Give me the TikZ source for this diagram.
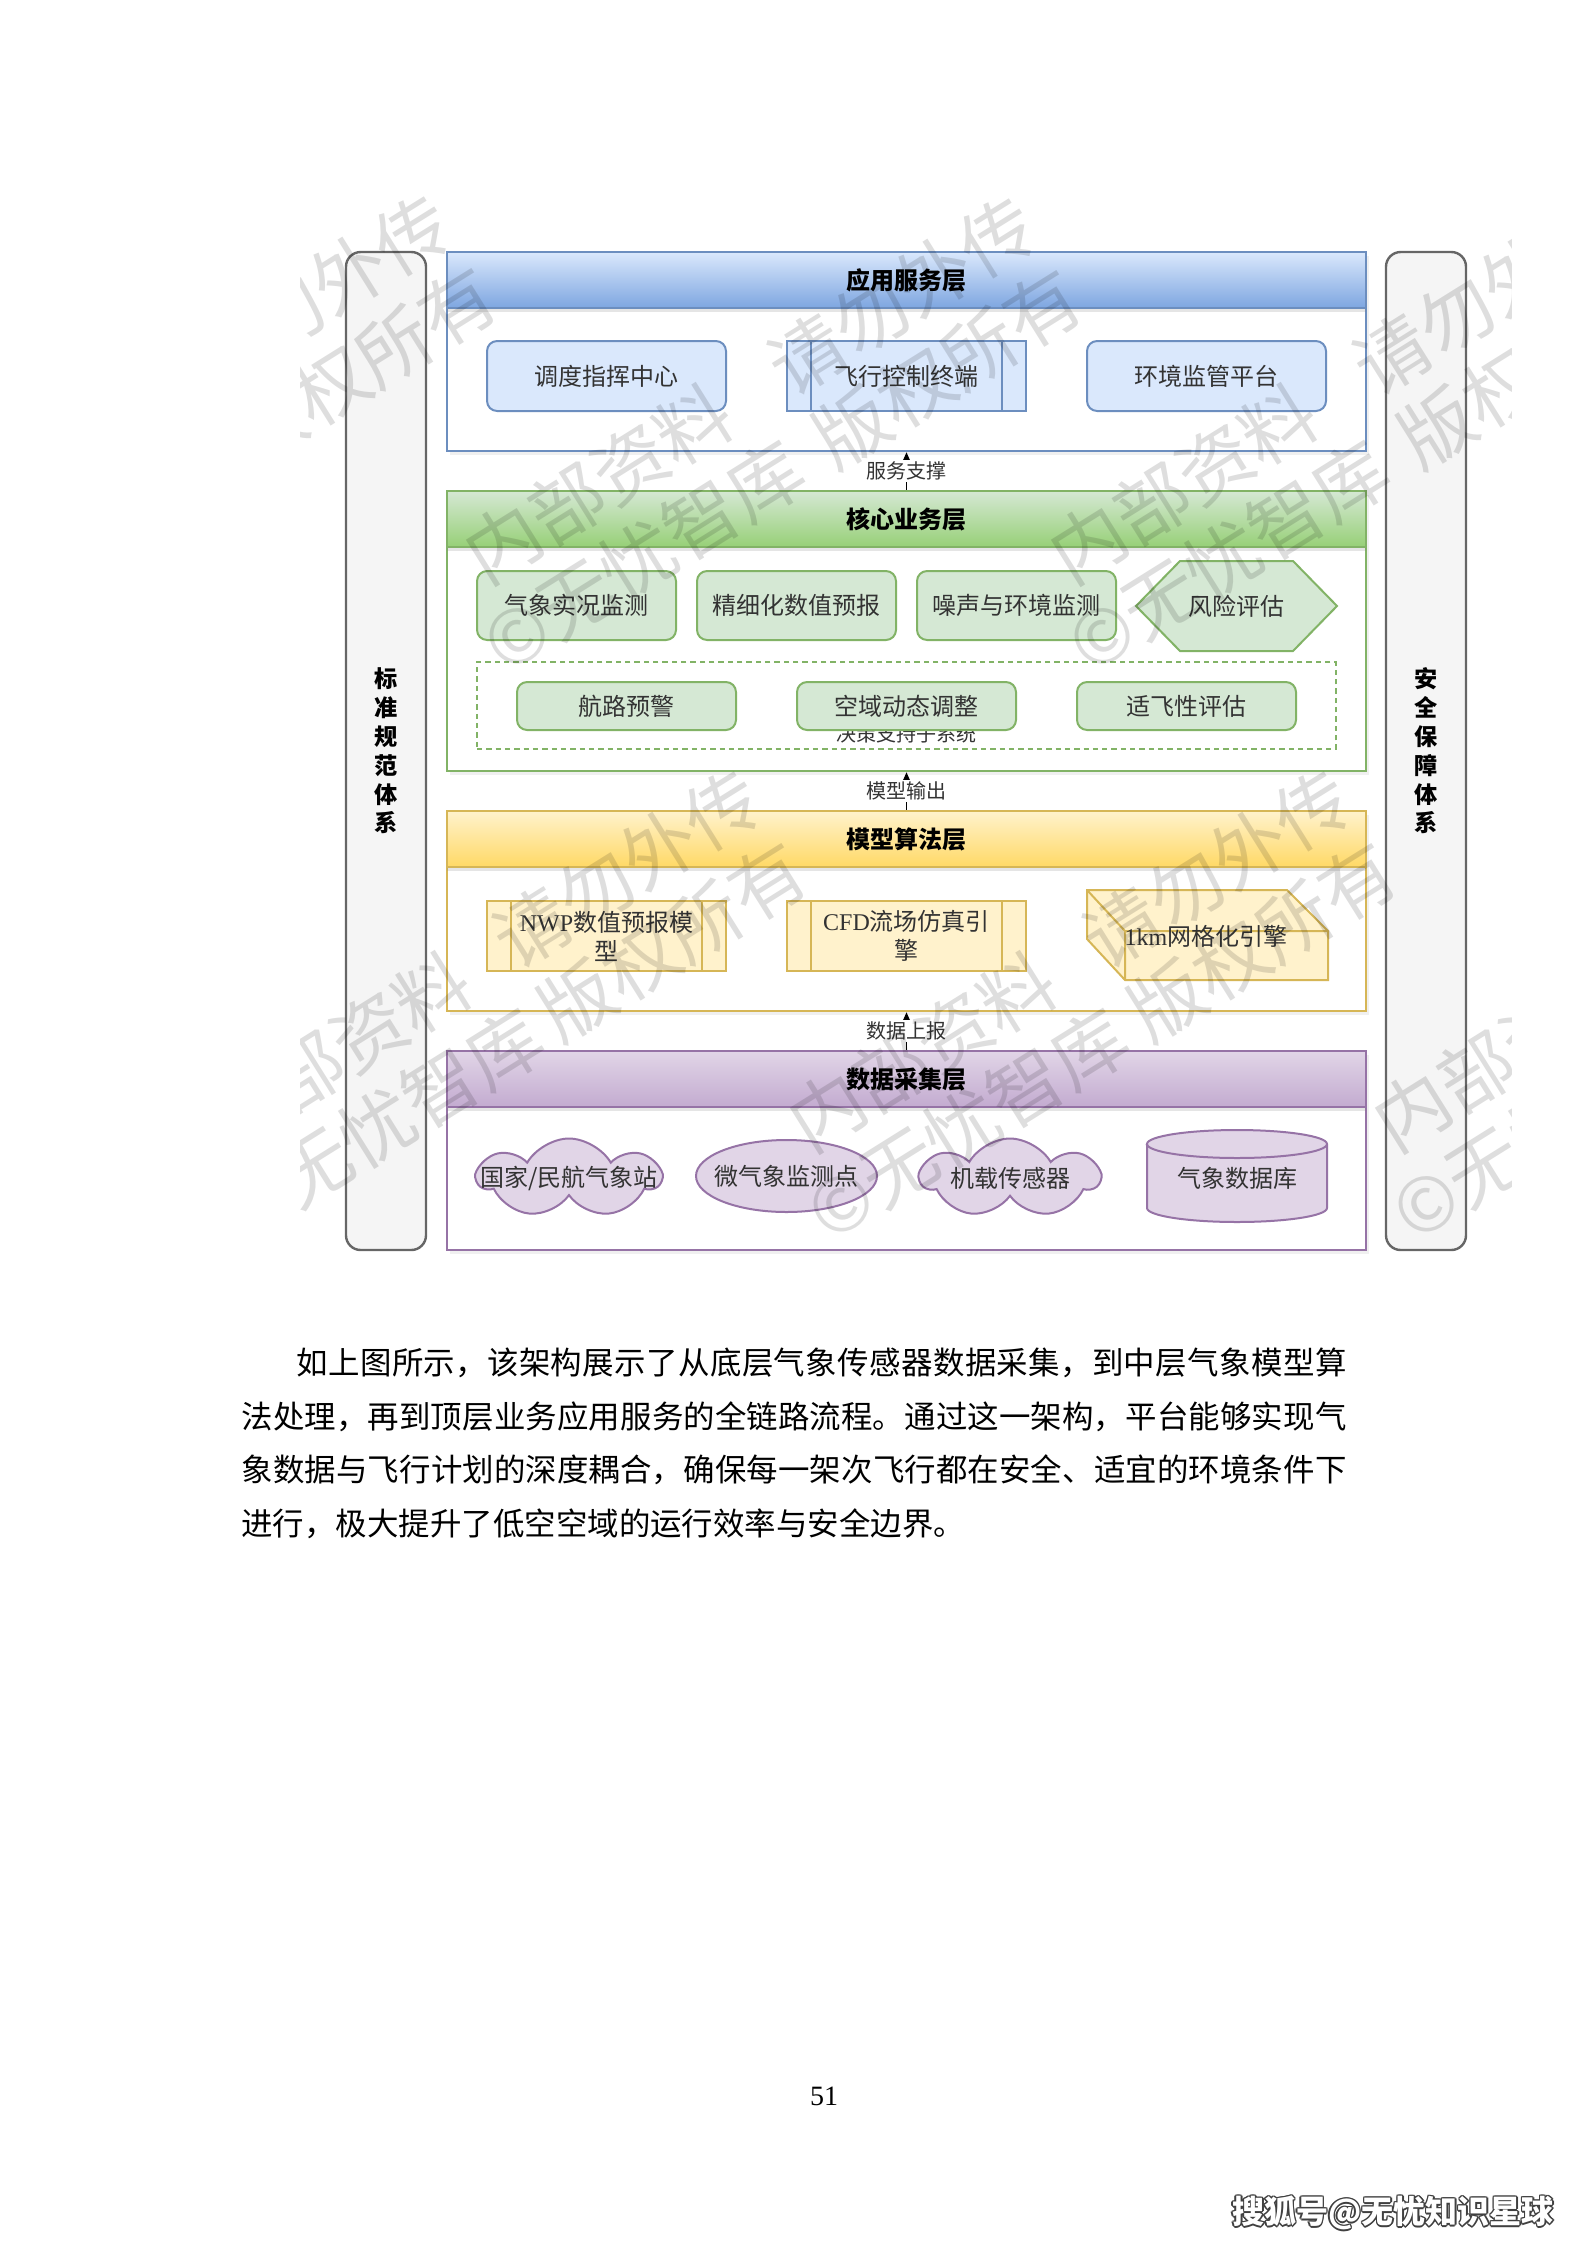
\documentclass[tikz,border=0pt]{standalone}
\usepackage{fontspec}
\setmainfont{Noto Sans CJK SC}
\newfontfamily\serifnum{Liberation Serif}
\usetikzlibrary{arrows.meta,shapes.geometric,shapes.symbols,shadows}

\XeTeXlinebreaklocale "zh"
\XeTeXlinebreakskip=0pt plus 1pt

\definecolor{appfill}{HTML}{DAE8FC}
\definecolor{appdark}{HTML}{7EA6E0}
\definecolor{appline}{HTML}{6C8EBF}
\definecolor{corefill}{HTML}{D5E8D4}
\definecolor{coredark}{HTML}{97D077}
\definecolor{coreline}{HTML}{82B366}
\definecolor{modfill}{HTML}{FFF2CC}
\definecolor{moddark}{HTML}{FFD966}
\definecolor{modline}{HTML}{D6B656}
\definecolor{datfill}{HTML}{E1D5E7}
\definecolor{datdark}{HTML}{C3ABD0}
\definecolor{datline}{HTML}{9673A6}
\definecolor{barfill}{HTML}{F5F5F5}
\definecolor{barline}{HTML}{666666}
\definecolor{txt}{HTML}{333333}

% one pixel of the page
\newcommand{\pxu}{0.37511pt}

\tikzset{
  wh/.style 2 args={minimum width=#1*\pxu, minimum height=#2*\pxu},
  sidebar/.style={rectangle, rounded corners=5.5pt, draw=barline, fill=barfill, line width=0.9pt,
    align=center, font=\bfseries\fontsize{8.7}{10.8}\selectfont, wh={80}{998}},
  layer/.style={rectangle, fill=white, line width=0.9pt, wh={919}{#1},
    drop shadow={opacity=0.12, shadow xshift=1.2pt, shadow yshift=-1.5pt}},
  head/.style={rectangle, anchor=north, line width=0.9pt, wh={919}{56},
    font=\bfseries\fontsize{9}{11}\selectfont,
    drop shadow={opacity=0.2, shadow xshift=0pt, shadow yshift=-1.6pt}},
  unit/.style={rectangle, rounded corners=3.8pt, line width=0.75pt, text=txt,
    font=\fontsize{9}{11}\selectfont},
  proc/.style={rectangle, line width=0.75pt, text=txt, align=center,
    font=\fontsize{9}{10.9}\selectfont, wh={239}{70}},
  label/.style={text=txt, font=\fontsize{9}{11}\selectfont},
  puff/.style={cloud, cloud puffs=7, cloud puff arc=120, draw=datline, fill=datfill,
    line width=0.75pt, inner sep=0pt},
  flow/.style={-{Triangle[length=3.6pt,width=3pt]}, line width=0.6pt},
  flowlabel/.style={fill=white, inner sep=0.5pt, text=txt, font=\fontsize{7.5}{9}\selectfont},
  wmark/.style={text=black, opacity=0.13, rotate=32, align=center,
    font=\fontsize{28}{32}\selectfont},
  sohu/.style={font=\bfseries\fontsize{12}{14}\selectfont}
}

\begin{document}
\begin{tikzpicture}[x=\pxu, y=-\pxu]
  \useasboundingbox (0,0) rectangle (1587,2245);

  % side frames
  \node[sidebar] (std) at (386,751) {标\\准\\规\\范\\体\\系};
  \node[sidebar] (sec) at (1426,751) {安\\全\\保\\障\\体\\系};

  % application layer
  \node[layer=199, draw=appline] (app) at (906.5,351.5) {};
  \node[head, top color=appfill, bottom color=appdark, draw=appline] (apphead) at (app.north) {应用服务层};
  \node[unit, fill=appfill, draw=appline, wh={239}{70}] (dispatch) at (606.5,376) {调度指挥中心};
  \node[proc, fill=appfill, draw=appline] (flightterm) at (906.5,376) {飞行控制终端};
  \draw[appline, line width=0.75pt] ([xshift=9.4pt]flightterm.north west) -- ([xshift=9.4pt]flightterm.south west)
    ([xshift=-9.4pt]flightterm.north east) -- ([xshift=-9.4pt]flightterm.south east);
  \node[unit, fill=appfill, draw=appline, wh={239}{70}] (envmon) at (1206.5,376) {环境监管平台};

  % core business layer
  \node[layer=280, draw=coreline] (core) at (906.5,631) {};
  \node[head, top color=corefill, bottom color=coredark, draw=coreline] (corehead) at (core.north) {核心业务层};
  \node[unit, fill=corefill, draw=coreline, wh={199}{69}] (obs) at (576.5,605.5) {气象实况监测};
  \node[unit, fill=corefill, draw=coreline, wh={199}{69}] (finefc) at (796.5,605.5) {精细化数值预报};
  \node[unit, fill=corefill, draw=coreline, wh={199}{69}] (noise) at (1016.5,605.5) {噪声与环境监测};
  \filldraw[fill=corefill, draw=coreline, line width=0.75pt] (1136,606) -- (1180,561) -- (1293,561)
    -- (1337,606) -- (1293,651) -- (1180,651) -- cycle;
  \node[label] (risk) at (1236.5,606) {风险评估};
  % decision support group
  \node[rectangle, draw=coreline, line width=0.6pt, dash pattern=on 2pt off 1.5pt, wh={859}{87}] (dss) at (906.5,705.5) {};
  \node[flowlabel, fill=none] (dsslabel) at (906.5,734) {决策支持子系统};
  \node[unit, fill=corefill, draw=coreline, wh={219}{48}] (route) at (626.5,706) {航路预警};
  \node[unit, fill=corefill, draw=coreline, wh={219}{48}] (airspace) at (906.5,706) {空域动态调整};
  \node[unit, fill=corefill, draw=coreline, wh={219}{48}] (flyable) at (1186.5,706) {适飞性评估};

  % model layer
  \node[layer=200, draw=modline] (model) at (906.5,911) {};
  \node[head, top color=modfill, bottom color=moddark, draw=modline] (modelhead) at (model.north) {模型算法层};
  \node[proc, fill=modfill, draw=modline] (nwp) at (606.5,936) {{\serifnum NWP}数值预报模\\型};
  \draw[modline, line width=0.75pt] ([xshift=9.4pt]nwp.north west) -- ([xshift=9.4pt]nwp.south west)
    ([xshift=-9.4pt]nwp.north east) -- ([xshift=-9.4pt]nwp.south east);
  \node[proc, fill=modfill, draw=modline] (cfd) at (906.5,936) {{\serifnum CFD}流场仿真引\\擎};
  \draw[modline, line width=0.75pt] ([xshift=9.4pt]cfd.north west) -- ([xshift=9.4pt]cfd.south west)
    ([xshift=-9.4pt]cfd.north east) -- ([xshift=-9.4pt]cfd.south east);
  \filldraw[fill=modfill, draw=modline, line width=0.75pt] (1087,890) -- (1287,890) -- (1328,931)
    -- (1328,980) -- (1125,980) -- (1087,939) -- cycle;
  \draw[modline, line width=0.75pt] (1087,890) -- (1125,931) -- (1328,931) (1125,931) -- (1125,980);
  \node[label] (grid) at (1206,936) {{\serifnum 1km}网格化引擎};

  % data layer
  \node[layer=199, draw=datline] (data) at (906.5,1150.5) {};
  \node[head, top color=datfill, bottom color=datdark, draw=datline] (datahead) at (data.north) {数据采集层};
  \node[puff, wh={182}{79}] (station) at (569,1178) {};
  \node[label] (stationtxt) at (station) {国家/民航气象站};
  \node[ellipse, draw=datline, fill=datfill, line width=0.75pt, inner sep=0pt, wh={181}{72}] (micro) at (786.5,1176) {};
  \node[label] (microtxt) at (micro) {微气象监测点};
  \node[puff, wh={178}{79}] (airborne) at (1010,1178) {};
  \node[label] (airbornetxt) at (airborne) {机载传感器};
  \filldraw[fill=datfill, draw=datline, line width=0.75pt] (1147,1144) -- (1147,1208)
    arc[start angle=180, end angle=360, x radius=33.76pt, y radius=5.25pt] -- (1327,1144)
    arc[start angle=0, end angle=180, x radius=33.76pt, y radius=5.25pt] -- cycle;
  \draw[datline, line width=0.75pt] (1147,1144) arc[start angle=180, end angle=360, x radius=33.76pt, y radius=5.25pt];
  \node[label] (metdb) at (1237,1178) {气象数据库};

  % links between layers
  \draw[flow] (core.north) -- node[flowlabel] (svc) {服务支撑} (app.south);
  \draw[flow] (model.north) -- node[flowlabel] (mout) {模型输出} (core.south);
  \draw[flow] (data.north) -- node[flowlabel] (dup) {数据上报} (model.south);

  % body text
  \node[anchor=base west, text width=414.5pt, align=justify, inner sep=0pt,
    font=\fontsize{11.8}{20.25}\selectfont] (para) at (241,1374) {%
    \hspace*{20.6pt}如上图所示，该架构展示了从底层气象传感器数据采集，到中层气象模型算\linebreak
    法处理，再到顶层业务应用服务的全链路流程。通过这一架构，平台能够实现气\linebreak
    象数据与飞行计划的深度耦合，确保每一架次飞行都在安全、适宜的环境条件下\linebreak
    进行，极大提升了低空空域的运行效率与安全边界。};
  \node[font=\serifnum\fontsize{10.5}{12}\selectfont] (pageno) at (824,2096) {51};

  % platform mark
  \foreach \dx/\dy [count=\i] in {-1.6/0, 1.6/0, 0/-1.6, 0/1.6, 1.2/1.2, -1.2/1.2, 1.2/-1.2, -1.2/-1.2}
    \node[sohu, text=black!75] (sohushade\i) at ({1393+\dx},{2213+\dy}) {搜狐号@无忧知识星球};
  \node[sohu, text=white] (sohu) at (1393,2213) {搜狐号@无忧知识星球};

  % faint marks over the figure
  \begin{scope}
    \clip (300,186) rectangle (1511,1262);
    \foreach \wx/\wy in {340/330, 925/332, 1510/332, 650/905, 1240/905}
      \node[wmark] (wa\wx) at (\wx,\wy) {请勿外传\\版权所有};
    \foreach \wx/\wy in {621/520, 1206/520, 360/1088, 945/1088, 1530/1088}
      \node[wmark] (wb\wx) at (\wx,\wy) {内部资料\\©无忧智库};
  \end{scope}
\end{tikzpicture}
\end{document}
